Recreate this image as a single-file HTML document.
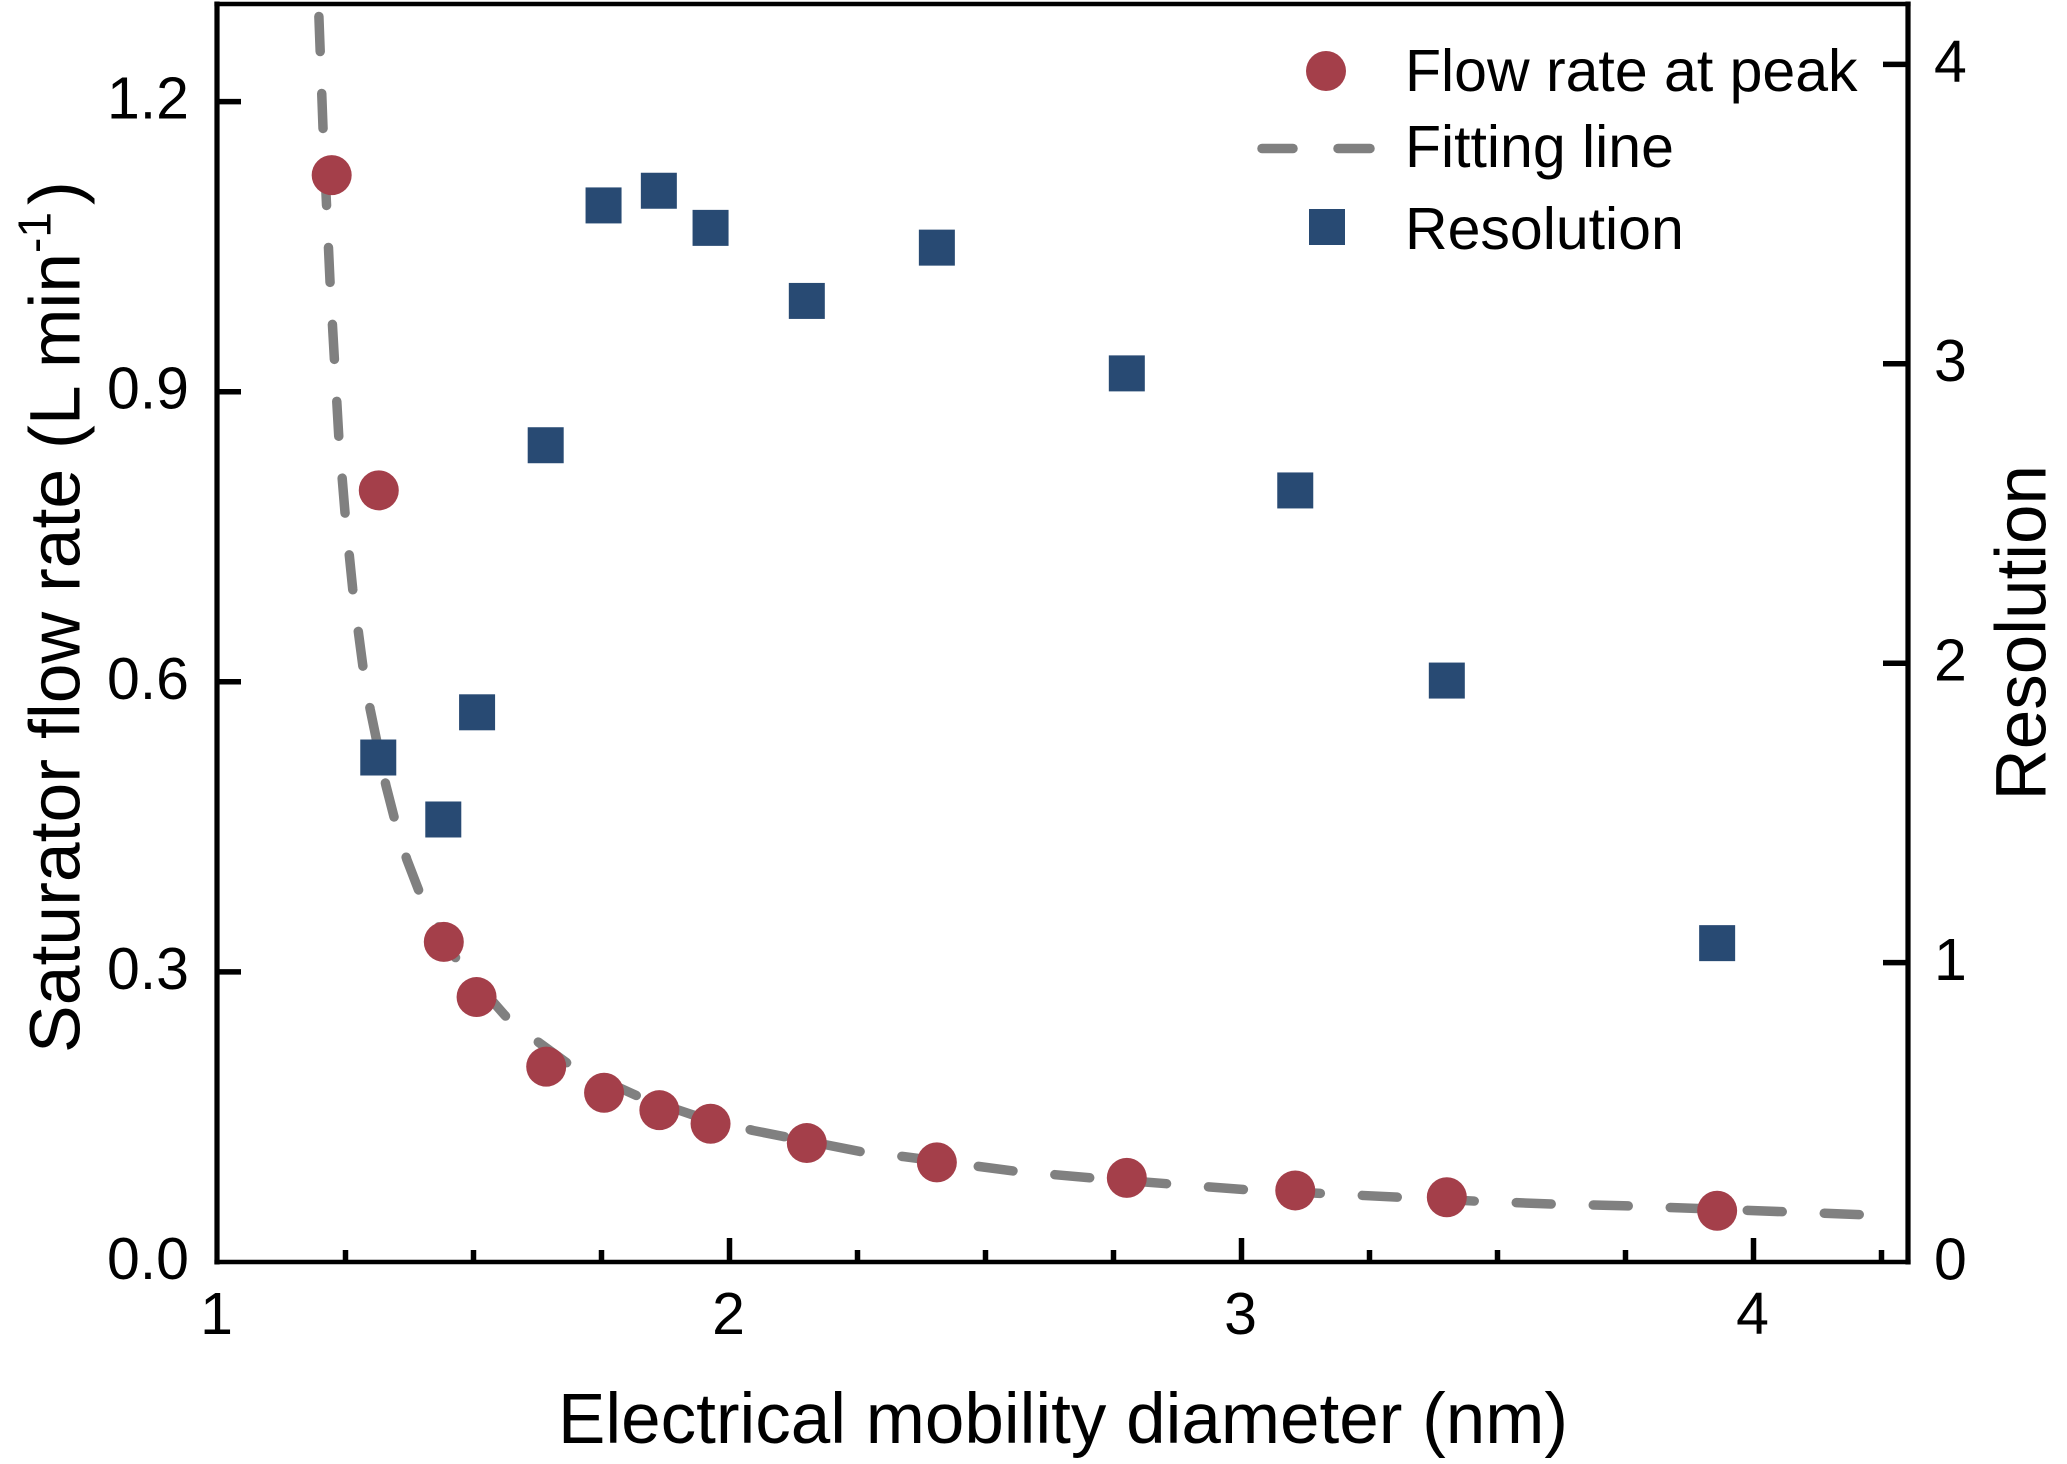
<!DOCTYPE html>
<html lang="en">
<head>
<meta charset="utf-8">
<title>Saturator flow rate and resolution vs electrical mobility diameter</title>
<style>
html,body{margin:0;padding:0;background:#fff;}
svg{display:block;}
text{font-family:"Liberation Sans",Arial,sans-serif;fill:#000;}
</style>
</head>
<body>
<svg id="chart" xmlns="http://www.w3.org/2000/svg" width="2067" height="1464" viewBox="0 0 2067 1464">
  <rect x="0" y="0" width="2067" height="1464" fill="#ffffff"/>
  <g id="fit-layer"></g>
  <g id="flow-layer"></g>
  <g id="res-layer"></g>
  <g stroke="#000">
    <line x1="217" y1="1.5" x2="217" y2="1264.5" stroke-width="5.2"/>
    <line x1="1908" y1="1.5" x2="1908" y2="1264.5" stroke-width="5.2"/>
    <line x1="214.4" y1="4" x2="1910.6" y2="4" stroke-width="4.5"/>
    <line x1="214.4" y1="1262" x2="1910.6" y2="1262" stroke-width="4.5"/>
  </g>
  <g id="tick-layer"></g>
  <text x="1063" y="1443" font-size="71" text-anchor="middle">Electrical mobility diameter (nm)</text>
  <text transform="translate(79.5,1053) rotate(-90)" font-size="71.5">Saturator flow rate (L min<tspan font-size="46" dy="-29">-1</tspan><tspan dx="7" dy="29">)</tspan></text>
  <text transform="translate(2045.5,800.5) rotate(-90)" font-size="71">Resolution</text>
  <g>
    <circle cx="1326" cy="71" r="20" fill="#a43f4a"/>
    <text x="1405" y="91" font-size="59">Flow rate at peak</text>
    <line x1="1262" y1="148.5" x2="1293" y2="148.5" stroke="#808080" stroke-width="9.5" stroke-linecap="round"/>
    <line x1="1338" y1="148.5" x2="1370" y2="148.5" stroke="#808080" stroke-width="9.5" stroke-linecap="round"/>
    <text x="1405" y="167" font-size="59">Fitting line</text>
    <rect x="1309" y="209" width="36" height="36" fill="#284a73"/>
    <text x="1405" y="249" font-size="59">Resolution</text>
  </g>
</svg>
<script>
// Chart data
var diameterFlow = [1.223,1.315,1.442,1.506,1.642,1.755,1.863,1.963,2.151,2.405,2.776,3.105,3.401,3.929];
var flowRate = [1.124,0.798,0.331,0.274,0.202,0.175,0.157,0.143,0.123,0.103,0.087,0.074,0.067,0.053];
var diameterRes = [1.314,1.441,1.507,1.641,1.754,1.862,1.963,2.151,2.405,2.776,3.105,3.401,3.929];
var resolution = [1.685,1.478,1.836,2.728,3.529,3.578,3.454,3.21,3.388,2.968,2.577,1.942,1.065];
var fitDiameter = [1.198,1.206,1.220,1.237,1.249,1.264,1.284,1.298,1.329,1.345,1.370,1.394,1.469,1.573,1.690,1.823,1.929,2.046,2.258,2.341,2.556,2.707,2.854,3.004,3.305,3.456,3.606,3.756,4.057,4.208];
var fitFlow = [1.288,1.173,1.012,0.853,0.775,0.696,0.616,0.572,0.493,0.460,0.416,0.383,0.311,0.248,0.203,0.171,0.152,0.136,0.114,0.109,0.094,0.087,0.081,0.075,0.067,0.063,0.060,0.058,0.052,0.049];
var xTickValues = [1,2,3,4];
var xTickLabels = ['1','2','3','4'];
var xMinorValues = [1.25,1.5,1.75,2.25,2.5,2.75,3.25,3.5,3.75,4.25];
var leftTickValues = [0,0.3,0.6,0.9,1.2];
var leftTickLabels = ['0.0','0.3','0.6','0.9','1.2'];
var rightTickValues = [0,1,2,3,4];
var rightTickLabels = ['0','1','2','3','4'];

// Axis functions
function xScale(v){ return 217.5 + (v - 1) * 512; }
function yLeft(v){ return 1262 - v * 967; }
function yRight(v){ return 1262 - v * 299.4; }

var NS = 'http://www.w3.org/2000/svg';
function make(tag, parent){
  var el = document.createElementNS(NS, tag);
  parent.appendChild(el);
  return el;
}
function attrs(el, o){
  for (var k in o) { el.setAttribute(k, o[k]); }
}

var fitLayer = document.getElementById('fit-layer');
var flowLayer = document.getElementById('flow-layer');
var resLayer = document.getElementById('res-layer');
var tickLayer = document.getElementById('tick-layer');

// Fitting line
var fitPts = fitDiameter.map(function(d, i){
  return xScale(d).toFixed(1) + ',' + yLeft(fitFlow[i]).toFixed(1);
}).join(' ');
var fit = make('polyline', fitLayer);


attrs(fit, {points: fitPts, fill: 'none', stroke: '#808080', 'stroke-width': 9.5, 'stroke-linecap': 'round', 'stroke-linejoin': 'round', 'stroke-dasharray': '35 42.05'});

// Flow-rate points
diameterFlow.forEach(function(d, i){
  var c = make('circle', flowLayer);
  
  
  attrs(c, {cx: xScale(d), cy: yLeft(flowRate[i]), r: 20, fill: '#a43f4a'});
});

// Resolution points
diameterRes.forEach(function(d, i){
  var r = make('rect', resLayer);
  
  
  attrs(r, {x: xScale(d) - 18, y: yRight(resolution[i]) - 18, width: 36, height: 36, fill: '#284a73'});
});

// X axis (the tick at the axis origin coincides with the spine, so only its label is drawn)
xTickValues.forEach(function(v, i){
  if (v > xTickValues[0]) {
    var t = make('line', tickLayer);
    
    
    attrs(t, {x1: xScale(v), x2: xScale(v), y1: 1238, y2: 1262, stroke: '#000', 'stroke-width': 5.5});
  }
  var l = make('text', tickLayer);
  
  
  attrs(l, {x: xScale(v) - 1, y: 1334, 'font-size': 59, 'text-anchor': 'middle'});
  l.textContent = xTickLabels[i];
});
xMinorValues.forEach(function(v){
  var t = make('line', tickLayer);
  
  
  attrs(t, {x1: xScale(v), x2: xScale(v), y1: 1250, y2: 1262, stroke: '#000', 'stroke-width': 5.5});
});

// Left axis
leftTickValues.forEach(function(v, i){
  if (v > 0) {
    var t = make('line', tickLayer);
    
    
    attrs(t, {x1: 217, x2: 241, y1: yLeft(v), y2: yLeft(v), stroke: '#000', 'stroke-width': 5.5});
  }
  var l = make('text', tickLayer);
  
  
  attrs(l, {x: 189, y: yLeft(v) + 17, 'font-size': 59, 'text-anchor': 'end'});
  l.textContent = leftTickLabels[i];
});

// Right axis
rightTickValues.forEach(function(v, i){
  if (v > 0) {
    var t = make('line', tickLayer);
    
    
    attrs(t, {x1: 1883, x2: 1908, y1: yRight(v), y2: yRight(v), stroke: '#000', 'stroke-width': 5.5});
  }
  var l = make('text', tickLayer);
  
  
  attrs(l, {x: 1934, y: yRight(v) + 17.4, 'font-size': 59});
  l.textContent = rightTickLabels[i];
});
</script>
</body>
</html>
